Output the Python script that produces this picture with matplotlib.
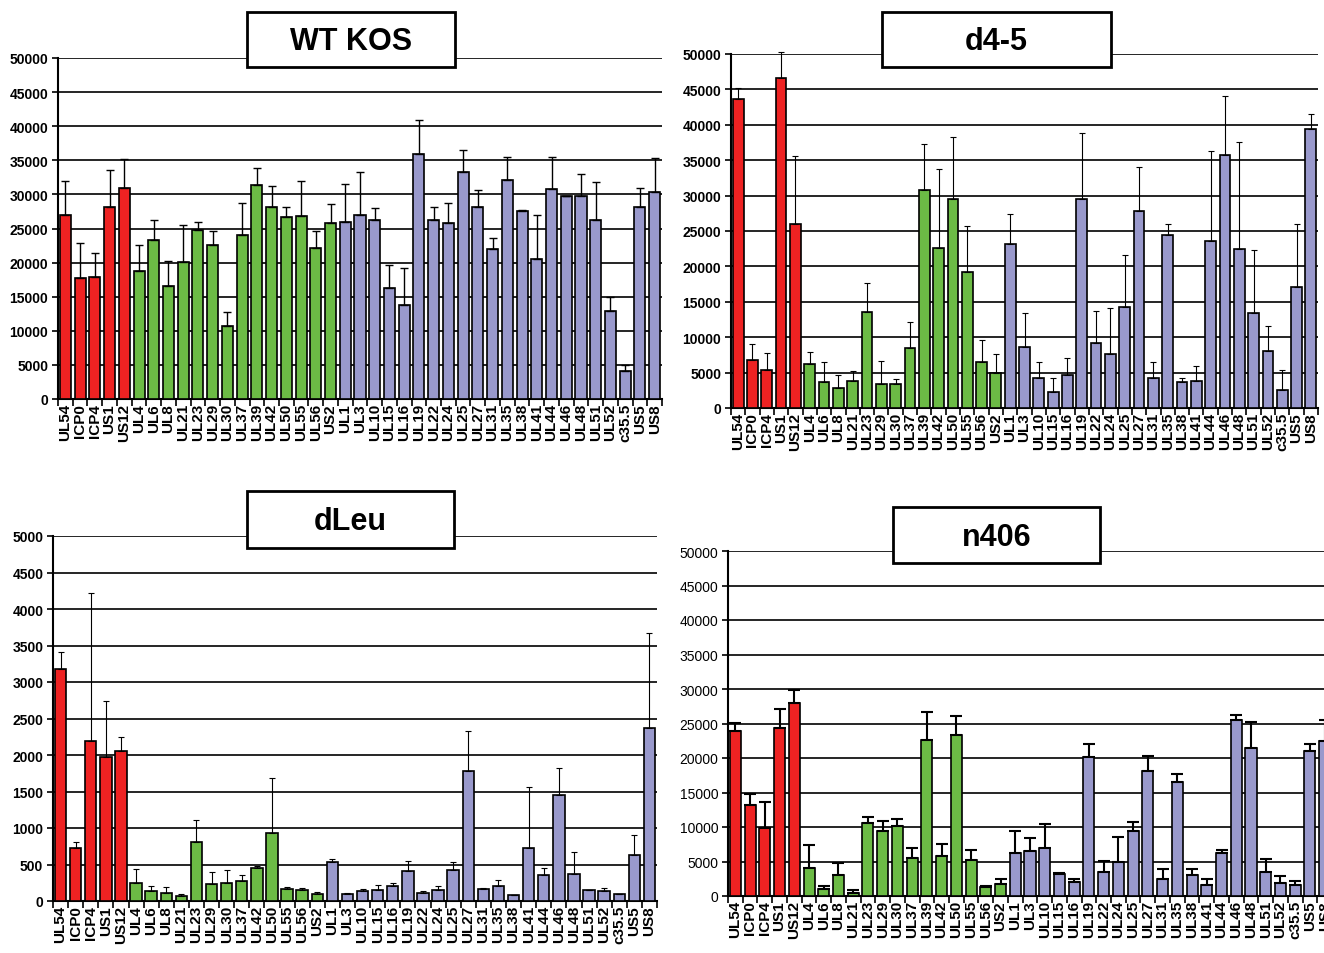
import matplotlib
matplotlib.use("Agg")
import matplotlib.pyplot as plt
import numpy as np

plt.rcParams["font.family"] = ["Liberation Sans", "DejaVu Sans"]

# ---- Data ----
RED = ["UL54", "ICP0", "ICP4", "US1", "US12"]
GREEN = ["UL4", "UL6", "UL8", "UL21", "UL23", "UL29", "UL30", "UL37", "UL39",
         "UL42", "UL50", "UL55", "UL56", "US2"]
BLUE = ["UL1", "UL3", "UL10", "UL15", "UL16", "UL19", "UL22", "UL24", "UL25",
        "UL27", "UL31", "UL35", "UL38", "UL41", "UL44", "UL46", "UL48", "UL51",
        "UL52", "c35.5", "US5", "US8"]
GREEN_DLEU = [g for g in GREEN if g != "UL39"]  # no UL39 in the dLeu panel

wt_mean = [27000, 17750, 17900, 28200, 30900,
           18800, 23300, 16600, 20050, 24800, 22600, 10650, 24100, 31450,
           28200, 26650, 26800, 22200, 25800,
           26000, 27000, 26300, 16250, 13850, 35900, 26200, 25800, 33300,
           28200, 22050, 32100, 27600, 20550, 30800, 29750, 29750, 26200,
           12850, 4050, 28200, 30400]
wt_top = [32000, 22900, 21350, 33650, 35150,
          22550, 26300, 20200, 25450, 26000, 24600, 12700, 28700, 33850,
          31250, 28200, 31950, 24600, 28550,
          31550, 33250, 28000, 19650, 19150, 40950, 28200, 28700, 36550,
          30600, 23600, 35500, 27650, 27000, 35500, 29750, 32950, 31800,
          14950, 5050, 30950, 35350]

d45_mean = [43600, 6750, 5300, 46650, 26050,
            6200, 3650, 2800, 3800, 13600, 3450, 3450, 8500, 30800,
            22550, 29550, 19200, 6450, 4950,
            23200, 8600, 4300, 2300, 4650, 29450, 9200, 7600, 14250,
            27850, 4200, 24500, 3650, 3750, 23550, 35800, 22400, 13350,
            8050, 2600, 17050, 39400]
d45_top = [45200, 9000, 7700, 50300, 35650,
           7900, 6450, 4650, 5250, 17650, 6600, 4100, 12100, 37300,
           33800, 38250, 25750, 9600, 7600,
           27400, 13450, 6550, 4300, 7100, 38900, 13700, 14100, 21650,
           34050, 6550, 26050, 4200, 5900, 36350, 44100, 37600, 22350,
           11550, 5300, 26050, 41550]

dleu_mean = [3180, 720, 2195, 1970, 2055,
             240, 137, 105, 65, 805, 238, 252, 275, 448, 932, 160, 146, 92,
             540, 100, 137, 146, 205, 415, 114, 146, 424, 1780, 160, 205,
             78, 720, 351, 1446, 374, 150, 132, 91, 630, 2372]
dleu_top = [3412, 812, 4215, 2742, 2250,
            433, 205, 192, 91, 1113, 392, 424, 351, 474, 1688, 192, 178, 128,
            570, 109, 169, 219, 242, 552, 132, 210, 529, 2322, 182, 287,
            82, 1565, 456, 1825, 666, 150, 182, 96, 908, 3672]

n406_mean = [23850, 13250, 9850, 24400, 27900,
             4100, 1050, 3050, 450, 10550, 9400, 10200, 5450, 22600,
             5850, 23400, 5200, 1250, 1800,
             6300, 6500, 6950, 3150, 2100, 20150, 3500, 4900, 9350,
             18100, 2450, 16500, 3100, 1650, 6300, 25450, 21400, 3500,
             1900, 1650, 21000, 22450]
n406_top = [25100, 14800, 13600, 27100, 29900,
            7400, 1450, 4750, 800, 11450, 10800, 11200, 6950, 26700,
            7600, 26050, 6700, 1450, 2500,
            9350, 8350, 10400, 3300, 2400, 22000, 5100, 8600, 10750,
            20350, 3900, 17650, 3900, 2400, 6700, 26300, 25250, 5300,
            2850, 2200, 22000, 25450]

C_RED, C_GREEN, C_BLUE = "#EE2222", "#6CBB45", "#9999CC"
W, H = 1324, 954


def px_rect(x0, y0, x1, y1):
    return [x0 / W, 1 - y1 / H, (x1 - x0) / W, (y1 - y0) / H]


def panel(fig, rect, green, mean, top, ymax, step, title, box, bold=True,
          elw=1.0, cap=3):
    genes = RED + green + BLUE
    colors = [C_RED] * len(RED) + [C_GREEN] * len(green) + [C_BLUE] * len(BLUE)
    ax = fig.add_axes(px_rect(*rect))
    x = np.arange(len(genes))
    mean = np.array(mean, float)
    top = np.array(top, float)
    ax.bar(x, mean, width=0.75, color=colors, edgecolor="black",
           linewidth=1.2, zorder=3)
    eb = ax.errorbar(x, mean, yerr=[np.zeros_like(mean), top - mean],
                     fmt="none", ecolor="black", elinewidth=elw,
                     capsize=cap, capthick=elw, zorder=4)
    for a in list(eb.lines[1]) + list(eb.lines[2]):
        a.set_clip_on(False)
    ax.set_xlim(-0.5, len(genes) - 0.5)
    ax.set_ylim(0, ymax)
    yt = np.arange(0, ymax + 1, step)
    ax.set_yticks(yt)
    ax.set_yticklabels([str(int(v)) for v in yt], fontsize=10,
                       fontweight="bold" if bold else "normal")
    ax.yaxis.grid(True, color="black", linewidth=1.2, zorder=0)
    ax.set_axisbelow(True)
    ax.set_xticks(np.arange(-0.5, len(genes)))
    ax.set_xticklabels([])
    ax.set_xticks(x, minor=True)
    ax.set_xticklabels(genes, minor=True, rotation=90, fontsize=11,
                       fontweight="bold")
    ax.tick_params(axis="x", which="major", length=5, width=1.2)
    ax.tick_params(axis="x", which="minor", length=0, pad=3)
    ax.tick_params(axis="y", length=4, width=1.2, pad=3)
    for s in ["top", "right"]:
        ax.spines[s].set_visible(False)
    for s in ["left", "bottom"]:
        ax.spines[s].set_linewidth(1.5)
    # title box
    bx0, by0, bx1, by1 = box
    fig.patches.append(plt.Rectangle((bx0 / W, 1 - by1 / H),
                                     (bx1 - bx0) / W, (by1 - by0) / H,
                                     transform=fig.transFigure,
                                     facecolor="white", edgecolor="black",
                                     linewidth=2, zorder=10))
    fig.text((bx0 + bx1) / 2 / W, 1 - ((by0 + by1) / 2 + 2) / H, title,
             ha="center", va="center", fontsize=22, fontweight="bold",
             zorder=11)
    return ax


fig = plt.figure(figsize=(W / 100, H / 100), dpi=100)
panel(fig, (58, 59, 662, 400), GREEN, wt_mean, wt_top, 50000, 5000, "WT KOS",
      (247, 13, 455, 68))
panel(fig, (731, 55, 1318, 409), GREEN, d45_mean, d45_top, 50000, 5000,
      "d4-5", (882, 13, 1111, 68), elw=0.8, cap=2.5)
panel(fig, (53, 537, 657, 902), GREEN_DLEU, dleu_mean, dleu_top, 5000, 500,
      "dLeu", (247, 492, 454, 549), elw=0.8, cap=2.5)
# the n406 axes runs past the right edge, as in the source figure
panel(fig, (728, 552, 1332, 897), GREEN, n406_mean, n406_top, 50000, 5000,
      "n406", (893, 508, 1100, 564), bold=False, elw=1.5, cap=4)

fig.savefig("out.png", dpi=100)
